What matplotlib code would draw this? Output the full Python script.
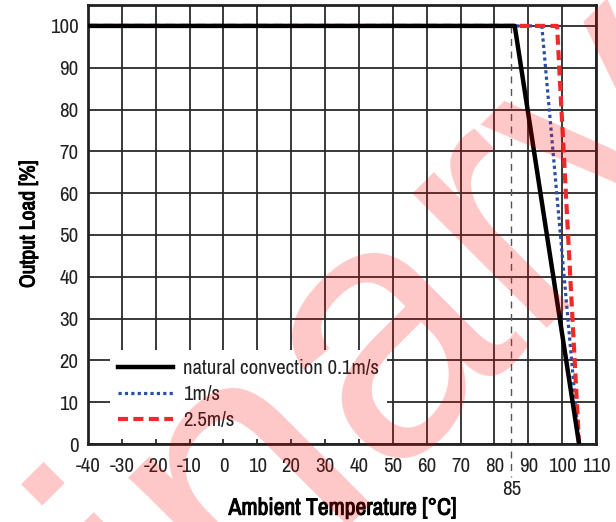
import matplotlib.pyplot as plt
import matplotlib.patheffects as pe

plt.rcParams['font.family'] = ['Archivo Narrow', 'Liberation Sans']
plt.rcParams['axes.unicode_minus'] = False

# derating curves (ambient temperature in degC, output load in %)
temp_natural = [-40, 86, 105]
load_natural = [100, 100, 0]
temp_1ms = [-40, 94, 105]
load_1ms = [100, 100, 0]
temp_25ms = [-40, 98.5, 105]
load_25ms = [100, 100, 0]

x_ticks = list(range(-40, 111, 10))
y_ticks = list(range(0, 101, 10))
marker_temp = 85

fig = plt.figure(figsize=(6.16, 5.22), dpi=100)
ax = fig.add_axes([88 / 616, 78 / 522, 508 / 616, 439 / 522])

ax.plot(temp_1ms, load_1ms, color='#2a4ea6', lw=2.3, linestyle=(0, (1, 1)),
        label='1m/s', zorder=3)
ax.plot(temp_25ms, load_25ms, color='#ee2a2a', lw=3.0, linestyle=(0, (2.4, 1.3)),
        label='2.5m/s', zorder=4)
ax.plot(temp_natural, load_natural, color='black', lw=3.2,
        label='natural convection 0.1m/s', zorder=5)

# 85 degC marker line reaching below the axis
ax.plot([marker_temp, marker_temp], [100, -8], color='#555555', lw=1,
        linestyle=(0, (5, 4)), clip_on=False, zorder=2)
ax.text(marker_temp, -11, str(marker_temp), ha='center', va='center', fontsize=15,
        color='#222222')

ax.set_xlim(-40, 110)
ax.set_ylim(0, 105)
ax.set_xticks(x_ticks)
ax.set_yticks(y_ticks)
ax.tick_params(length=0, labelsize=15, labelcolor='#222222')
ax.tick_params(axis='x', pad=9)
ax.tick_params(axis='y', pad=7)
ax.grid(True, color='#2a2a2a', lw=1.3)
ax.set_axisbelow(True)
for s in ax.spines.values():
    s.set_linewidth(2)
    s.set_color('#222222')

bold = [pe.withStroke(linewidth=0.7, foreground='black')]
ax.set_xlabel('Ambient Temperature [°C]', fontsize=17, labelpad=16, path_effects=bold)
ax.set_ylabel('Output Load [%]', fontsize=15.5, labelpad=8, path_effects=bold)

h, l = ax.get_legend_handles_labels()
order = [2, 0, 1]
leg = ax.legend([h[i] for i in order], [l[i] for i in order], loc='lower left',
                bbox_to_anchor=(0.043, 0.012), frameon=True, fancybox=False,
                edgecolor='none', facecolor='white', framealpha=1, fontsize=15,
                handlelength=2.65, handletextpad=0.45, labelspacing=0.35,
                borderaxespad=0)
leg.set_zorder(6)
for t in leg.get_texts():
    t.set_color('#222222')

# watermark overlay
fig.text(734 / 616, 1 - 111 / 522, 'Preliminary', fontsize=260, color='red', alpha=0.22,
         rotation=45, rotation_mode='anchor', ha='right', va='baseline', zorder=20,
         family='Liberation Sans')

fig.savefig('out.png', dpi=100)
